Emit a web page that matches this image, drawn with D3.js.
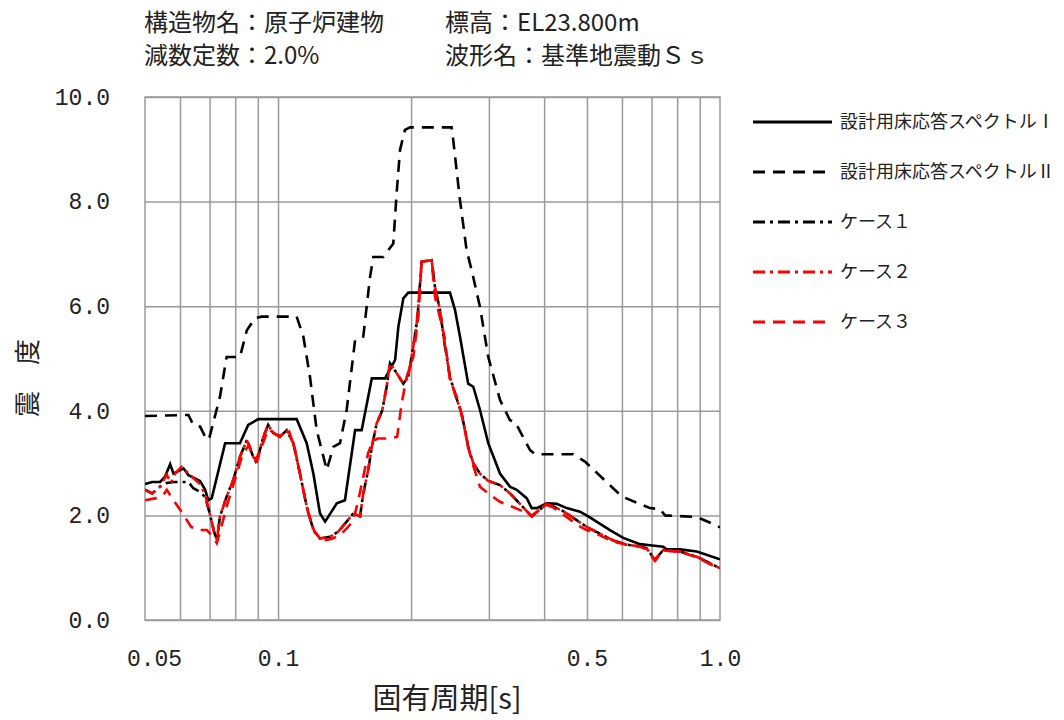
<!DOCTYPE html>
<html>
<head>
<meta charset="utf-8">
<script src="https://cdn.jsdelivr.net/npm/d3@7"></script>
<style>
  body { margin: 0; background: #fff; }
  text { fill: #222; }
  .jp { font-family: "Noto Sans CJK JP", "Noto Sans", sans-serif; }
  .num { font-family: "Liberation Mono", "DejaVu Sans Mono", monospace; }
</style>
</head>
<body>
<svg id="chart" width="1064" height="720"></svg>
<script>
// header text
var titleLines = [
  ["構造物名：原子炉建物", "標高：EL23.800m"],
  ["減数定数：2.0%", "波形名：基準地震動Ｓｓ"]
];

var xTickValues = [0.05, 0.1, 0.5, 1.0];
var xTickLabels = ["0.05", "0.1", "0.5", "1.0"];
var xGridValues = [0.06, 0.07, 0.08, 0.09, 0.1, 0.2, 0.3, 0.4, 0.5, 0.6, 0.7, 0.8, 0.9];
var yTickValues = [0, 2, 4, 6, 8, 10];

// [period (s), seismic coefficient]
var spectrumI = [
  [0.050, 2.60], [0.0519, 2.64], [0.0541, 2.64], [0.0555, 2.74], [0.0570, 2.98],
  [0.0580, 2.80], [0.0611, 2.90], [0.0627, 2.77], [0.0666, 2.66], [0.0684, 2.49],
  [0.0695, 2.29], [0.0708, 2.33], [0.0759, 3.38], [0.0820, 3.38], [0.0856, 3.73],
  [0.0902, 3.84], [0.1102, 3.84], [0.1161, 3.38], [0.1202, 2.80], [0.1244, 2.04],
  [0.1278, 1.88], [0.1358, 2.23], [0.1417, 2.29], [0.1494, 3.63], [0.1546, 3.63],
  [0.1630, 4.62], [0.1746, 4.62], [0.1840, 4.97], [0.1872, 5.61], [0.1921, 6.15],
  [0.1971, 6.26], [0.2449, 6.26], [0.2514, 5.93], [0.2580, 5.42], [0.2693, 4.52],
  [0.2765, 4.46], [0.2863, 4.02], [0.2990, 3.38], [0.3178, 2.80], [0.3348, 2.55],
  [0.3467, 2.49], [0.3652, 2.33], [0.3749, 2.14], [0.3848, 2.14], [0.4054, 2.23],
  [0.4271, 2.22], [0.4499, 2.14], [0.4822, 2.07], [0.5035, 1.98], [0.5636, 1.72],
  [0.6040, 1.57], [0.6590, 1.45], [0.6940, 1.43], [0.7440, 1.40], [0.7570, 1.35],
  [0.8120, 1.35], [0.8860, 1.31], [1.000, 1.16]
];

var spectrumII = [
  [0.050, 3.90], [0.0627, 3.92], [0.0643, 3.73], [0.0666, 3.70], [0.0690, 3.44],
  [0.0700, 3.50], [0.0739, 4.27], [0.0765, 5.03], [0.0820, 5.03], [0.0850, 5.54],
  [0.0887, 5.77], [0.0918, 5.80], [0.1102, 5.80], [0.1141, 5.42], [0.1181, 4.65],
  [0.1223, 3.63], [0.1289, 2.87], [0.1334, 3.31], [0.1381, 3.38], [0.1430, 4.02],
  [0.1494, 5.35], [0.1559, 5.42], [0.1615, 6.56], [0.1643, 6.94], [0.1730, 6.94],
  [0.1823, 7.20], [0.1855, 8.16], [0.1888, 8.99], [0.1937, 9.37], [0.1989, 9.42],
  [0.2470, 9.42], [0.2491, 9.18], [0.2580, 8.03], [0.2671, 7.07], [0.2742, 6.69],
  [0.2863, 5.99], [0.2990, 5.03], [0.3178, 4.21], [0.3348, 3.82], [0.3437, 3.79],
  [0.3716, 3.25], [0.3813, 3.17], [0.4655, 3.17], [0.4948, 3.03], [0.6000, 2.36],
  [0.6940, 2.14], [0.7316, 2.12], [0.7510, 2.00], [0.8860, 1.97], [0.9740, 1.82],
  [1.000, 1.77]
];

var case1 = [
  [0.050, 2.49], [0.0519, 2.42], [0.0541, 2.55], [0.0560, 2.62], [0.0580, 2.64],
  [0.0611, 2.64], [0.0627, 2.64], [0.0643, 2.52], [0.0666, 2.45], [0.0684, 2.35],
  [0.0700, 2.05], [0.0716, 1.70], [0.0727, 1.53], [0.0739, 1.98], [0.0765, 2.36],
  [0.0792, 2.68], [0.0820, 3.12], [0.0850, 3.44], [0.0879, 3.12], [0.0894, 3.00],
  [0.0926, 3.50], [0.0950, 3.73], [0.0976, 3.57], [0.1010, 3.50], [0.1046, 3.63],
  [0.1083, 3.38], [0.1121, 2.80], [0.1161, 2.17], [0.1202, 1.72], [0.1244, 1.56],
  [0.1311, 1.59], [0.1368, 1.69], [0.1430, 1.88], [0.1480, 2.04], [0.1533, 1.98],
  [0.1559, 2.42], [0.1600, 2.87], [0.1630, 3.31], [0.1672, 3.76], [0.1720, 4.00],
  [0.1761, 4.46], [0.1792, 4.91], [0.1855, 4.72], [0.1921, 4.52], [0.1971, 4.65],
  [0.2023, 5.23], [0.2059, 5.67], [0.2077, 5.99], [0.2113, 6.85], [0.2226, 6.88],
  [0.2265, 6.37], [0.2325, 5.93], [0.2380, 5.29], [0.2449, 4.65], [0.2514, 4.33],
  [0.2600, 3.95], [0.2650, 3.63], [0.2693, 3.31], [0.2765, 3.00], [0.2863, 2.80],
  [0.2990, 2.66], [0.3178, 2.58], [0.3348, 2.42], [0.3527, 2.22], [0.3749, 1.98],
  [0.4054, 2.22], [0.4196, 2.17], [0.4420, 2.08], [0.4739, 1.91], [0.4992, 1.78],
  [0.5350, 1.65], [0.5735, 1.52], [0.6150, 1.44], [0.6590, 1.41], [0.6826, 1.37],
  [0.7126, 1.15], [0.7440, 1.34], [0.8120, 1.31], [0.8860, 1.21], [1.000, 0.99]
];

var case2 = [
  [0.050, 2.49], [0.0519, 2.42], [0.0541, 2.55], [0.0560, 2.78], [0.0572, 2.62],
  [0.0585, 2.80], [0.0605, 2.93], [0.0627, 2.80], [0.0650, 2.68], [0.0666, 2.60],
  [0.0684, 2.40], [0.0700, 2.05], [0.0716, 1.70], [0.0727, 1.53], [0.0739, 1.98],
  [0.0765, 2.36], [0.0792, 2.68], [0.0820, 3.12], [0.0850, 3.44], [0.0879, 3.12],
  [0.0894, 3.00], [0.0926, 3.50], [0.0950, 3.73], [0.0976, 3.57], [0.1010, 3.50],
  [0.1046, 3.63], [0.1083, 3.38], [0.1121, 2.80], [0.1161, 2.17], [0.1202, 1.72],
  [0.1244, 1.56], [0.1311, 1.59], [0.1368, 1.69], [0.1430, 1.88], [0.1480, 2.04],
  [0.1533, 1.98], [0.1559, 2.42], [0.1600, 2.87], [0.1630, 3.31], [0.1672, 3.76],
  [0.1720, 4.00], [0.1761, 4.46], [0.1792, 4.91], [0.1855, 4.72], [0.1921, 4.52],
  [0.1971, 4.65], [0.2023, 5.23], [0.2059, 5.67], [0.2077, 5.99], [0.2113, 6.85],
  [0.2226, 6.88], [0.2265, 6.37], [0.2325, 5.93], [0.2380, 5.29], [0.2449, 4.65],
  [0.2514, 4.33], [0.2600, 3.95], [0.2650, 3.63], [0.2693, 3.31], [0.2765, 3.00],
  [0.2863, 2.80], [0.2990, 2.66], [0.3178, 2.58], [0.3348, 2.42], [0.3527, 2.22],
  [0.3749, 1.98], [0.4054, 2.22], [0.4196, 2.17], [0.4420, 2.08], [0.4739, 1.91],
  [0.4992, 1.78], [0.5350, 1.65], [0.5735, 1.52], [0.6150, 1.44], [0.6590, 1.41],
  [0.6826, 1.37], [0.7126, 1.15], [0.7440, 1.34], [0.8120, 1.31], [0.8860, 1.21],
  [1.000, 0.99]
];

var case3 = [
  [0.050, 2.29], [0.0530, 2.33], [0.0550, 2.39], [0.0560, 2.49], [0.0580, 2.29],
  [0.0608, 2.04], [0.0636, 1.78], [0.0660, 1.72], [0.0690, 1.72], [0.0708, 1.62],
  [0.0727, 1.47], [0.0745, 1.80], [0.0770, 2.25], [0.0800, 2.70], [0.0830, 3.15],
  [0.0860, 3.35], [0.0890, 3.05], [0.0926, 3.40], [0.0950, 3.65], [0.0990, 3.55],
  [0.1030, 3.50], [0.1060, 3.60], [0.1090, 3.30], [0.1130, 2.65], [0.1170, 2.05],
  [0.1210, 1.68], [0.1260, 1.52], [0.1320, 1.55], [0.1380, 1.62], [0.1430, 1.75],
  [0.1480, 1.90], [0.1520, 2.30], [0.1560, 2.75], [0.1600, 3.20], [0.1640, 3.42],
  [0.1680, 3.47], [0.1760, 3.47], [0.1860, 3.50], [0.1904, 4.14], [0.1955, 4.65],
  [0.2023, 5.03], [0.2077, 5.80], [0.2113, 6.85], [0.2226, 6.88], [0.2265, 6.18],
  [0.2380, 5.42], [0.2449, 4.59], [0.2560, 4.18], [0.2620, 3.82], [0.2693, 3.30],
  [0.2765, 2.95], [0.2863, 2.55], [0.2990, 2.42], [0.3178, 2.26], [0.3400, 2.16],
  [0.3600, 2.07], [0.3749, 2.00], [0.4054, 2.20], [0.4196, 2.15], [0.4420, 2.02],
  [0.4739, 1.82], [0.4992, 1.72], [0.5350, 1.62], [0.5735, 1.50], [0.6150, 1.44],
  [0.6590, 1.40], [0.6826, 1.35], [0.7126, 1.13], [0.7440, 1.33], [0.8120, 1.30],
  [0.8860, 1.20], [1.000, 0.97]
];

var seriesNames = ["設計用床応答スペクトルⅠ", "設計用床応答スペクトルⅡ", "ケース１", "ケース２", "ケース３"];
var seriesData = [spectrumI, spectrumII, case1, case2, case3];
var seriesColors = ["#000", "#000", "#000", "#ff0000", "#ff0000"];
var seriesDash = [null, "12,8", "12,5,3,5", "12,5,3,5", "12,8"];

var svg = d3.select("#chart");
// note: "top" clashes with window.top, so prefix these
var plotLeft = 145, plotTop = 97, plotRight = 720, plotBottom = 620;
var plotW = plotRight - plotLeft, plotH = plotBottom - plotTop;

var x = d3.scaleLog().domain([0.05, 1.0]).range([plotLeft, plotRight]);
var y = d3.scaleLinear().domain([0, 10]).range([plotBottom, plotTop]);

// title block
titleLines.forEach(function(line, i) {
  svg.append("text").attr("class", "jp")
    .attr("x", 144).attr("y", 31 + i * 33)
    .attr("font-size", 24).text(line[0]);
  svg.append("text").attr("class", "jp")
    .attr("x", 445).attr("y", 31 + i * 33)
    .attr("font-size", 24).text(line[1]);
});

// grid
svg.append("g")
  .attr("transform", "translate(0," + plotBottom + ")")
  .call(d3.axisBottom(x).tickValues(xGridValues).tickSize(-plotH).tickFormat(""))
  .call(function(g) {
    g.select(".domain").remove();
    g.selectAll("line").attr("stroke", "#9a9a9a").attr("stroke-width", 1.5);
  });

svg.append("g")
  .attr("transform", "translate(" + plotLeft + ",0)")
  .call(d3.axisLeft(y).tickValues(yTickValues).tickSize(-plotW).tickFormat(""))
  .call(function(g) {
    g.select(".domain").remove();
    g.selectAll("line").attr("stroke", "#9a9a9a").attr("stroke-width", 1.5);
  });

svg.append("rect")
  .attr("x", plotLeft).attr("y", plotTop).attr("width", plotW).attr("height", plotH)
  .attr("fill", "none").attr("stroke", "#9a9a9a").attr("stroke-width", 1.5);

// tick labels
svg.append("g")
  .attr("transform", "translate(0," + (plotBottom + 27) + ")")
  .call(d3.axisBottom(x).tickValues(xTickValues).tickSize(0)
    .tickFormat(function(d, i) { return xTickLabels[i]; }))
  .call(function(g) {
    g.select(".domain").remove();
    g.selectAll("text").attr("class", "num").attr("font-size", 23).attr("fill", "#222");
    // first label sits a little inside the plot edge
    g.selectAll("text").filter(function(d) { return d === 0.05; }).attr("dx", 9);
  });

svg.append("g")
  .attr("transform", "translate(" + (plotLeft - 32) + ",0)")
  .call(d3.axisLeft(y).tickValues(yTickValues).tickSize(0).tickFormat(d3.format(".1f")))
  .call(function(g) {
    g.select(".domain").remove();
    g.selectAll("text").attr("class", "num").attr("font-size", 23).attr("fill", "#222");
  });

// axis titles
svg.append("text").attr("class", "jp")
  .attr("x", 447).attr("y", 709)
  .attr("text-anchor", "middle").attr("font-size", 29)
  .text("固有周期[s]");

svg.append("text").attr("class", "jp")
  .attr("transform", "translate(37,378) rotate(-90)")
  .attr("text-anchor", "middle").attr("font-size", 26)
  .text("震　度");

// curves
svg.append("clipPath").attr("id", "plot-clip")
  .append("rect").attr("x", plotLeft).attr("y", plotTop).attr("width", plotW).attr("height", plotH);

var line = d3.line()
  .x(function(d) { return x(d[0]); })
  .y(function(d) { return y(d[1]); });

var curves = svg.append("g").attr("clip-path", "url(#plot-clip)");
seriesData.forEach(function(data, i) {
  curves.append("path")
    .attr("d", line(data))
    .attr("fill", "none")
    .attr("stroke", seriesColors[i])
    .attr("stroke-width", 2.6)
    .attr("stroke-dasharray", seriesDash[i]);
});

// legend
var legend = svg.append("g");
seriesNames.forEach(function(name, i) {
  var ly = 122 + i * 50;
  legend.append("line")
    .attr("x1", 753).attr("x2", 832).attr("y1", ly).attr("y2", ly)
    .attr("stroke", seriesColors[i]).attr("stroke-width", 3)
    .attr("stroke-dasharray", seriesDash[i]);
  legend.append("text").attr("class", "jp")
    .attr("x", 840).attr("y", ly + 6)
    .attr("font-size", 18).text(name);
});
</script>
</body>
</html>
